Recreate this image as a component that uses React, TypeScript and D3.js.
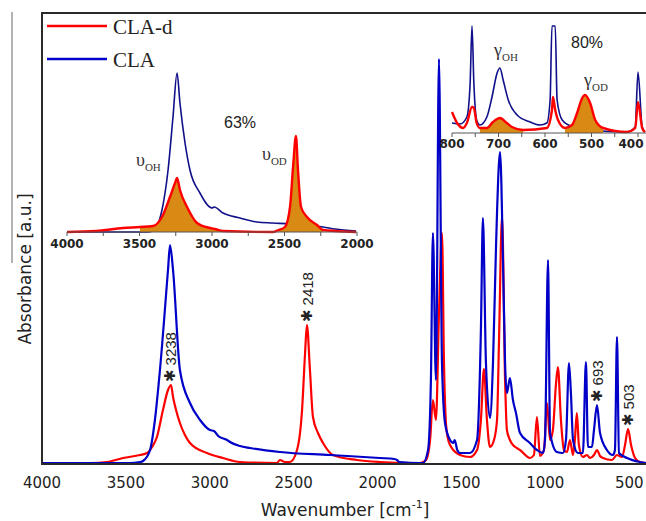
import React from 'react';
import * as d3 from 'd3';

type P = [number, number];

// ---------- Main spectrum data: [wavenumber (cm-1), absorbance (a.u.)] ----------
const claMain: P[] = [
  [4000, 1], [3800, 1], [3600, 1], [3480, 1], [3416, 2], [3398, 3], [3356, 14], [3327, 44], [3297, 94],
  [3249, 194], [3237, 219], [3219, 194], [3178, 94], [3118, 61], [3058, 44], [2999, 34], [2975, 33],
  [2950, 28], [2897, 24], [2880, 22], [2820, 18], [2760, 16], [2582, 12], [2284, 9], [1986, 6], [1900, 5],
  [1884, 4], [1870, 2], [1747, 1], [1729, 1], [1699, 14], [1682, 84], [1670, 231], [1652, 84], [1634, 405],
  [1616, 101], [1598, 41], [1568, 24], [1550, 21], [1540, 24], [1525, 14], [1509, 11], [1449, 11], [1407, 24],
  [1384, 134], [1372, 246], [1354, 101], [1330, 46], [1312, 101], [1294, 217], [1288, 251], [1270, 312],
  [1252, 201], [1240, 101], [1229, 71], [1211, 86], [1193, 64], [1175, 51], [1151, 31], [1092, 21],
  [1050, 14], [1014, 11], [1002, 24], [984, 204], [972, 31], [931, 12], [895, 11], [877, 24], [859, 101],
  [847, 69], [835, 24], [806, 11], [776, 11], [758, 102], [746, 17], [722, 17], [710, 34], [692, 59],
  [674, 31], [633, 14], [597, 9], [585, 14], [573, 127], [561, 11], [513, 6], [436, 2], [400, 1],
];

const cladMain: P[] = [
  [4000, 1], [3714, 1], [3613, 2], [3517, 6], [3416, 9], [3374, 11], [3344, 17], [3315, 27], [3279, 54],
  [3249, 74], [3231, 79], [3219, 67], [3201, 54], [3178, 41], [3148, 29], [3118, 21], [3017, 11], [2921, 6],
  [2820, 2], [2600, 1], [2582, 4], [2552, 2], [2522, 2], [2480, 14], [2450, 54], [2432, 111], [2421, 139],
  [2403, 94], [2385, 47], [2355, 31], [2325, 21], [2266, 9], [2123, 4], [1986, 2], [1789, 1], [1747, 1],
  [1711, 4], [1687, 24], [1670, 64], [1652, 44], [1634, 150], [1616, 231], [1604, 100], [1592, 40],
  [1580, 25], [1568, 19], [1509, 9], [1449, 7], [1407, 14], [1384, 44], [1366, 95], [1348, 44], [1330, 17],
  [1306, 24], [1288, 44], [1276, 124], [1258, 248], [1240, 84], [1229, 34], [1211, 24], [1193, 19],
  [1170, 16], [1151, 14], [1092, 6], [1068, 9], [1050, 47], [1032, 8], [1008, 14], [990, 61], [972, 24],
  [955, 34], [937, 79], [925, 97], [907, 44], [889, 14], [871, 12], [853, 24], [835, 9], [824, 24],
  [812, 51], [800, 19], [776, 7], [752, 9], [734, 6], [710, 9], [692, 14], [674, 8], [656, 6], [603, 4],
  [573, 9], [543, 7], [525, 19], [507, 35], [489, 19], [465, 6], [436, 2], [400, 1],
];

// ---------- Inset: O-H / O-D stretching region ----------
const claStretch: P[] = [
  [4000, 0], [3700, 0], [3450, 0], [3407, 1], [3345, 22], [3303, 62], [3269, 115], [3241, 159], [3221, 129],
  [3186, 89], [3152, 62], [3083, 39], [3000, 24], [2985, 25], [2924, 19], [2807, 14], [2690, 10], [2580, 9],
  [2462, 8], [2234, 5], [2150, 3], [2007, 1],
];
const cladStretch: P[] = [
  [4000, 0], [3800, 1], [3614, 4], [3497, 5], [3407, 6], [3345, 15], [3290, 35], [3255, 49], [3241, 54],
  [3221, 42], [3172, 25], [3103, 9], [3014, 4], [2980, 3], [2924, 1], [2579, 0], [2540, 2], [2497, 5],
  [2462, 25], [2441, 65], [2421, 96], [2407, 62], [2386, 25], [2345, 15], [2276, 7], [2234, 2], [2150, 1],
  [2007, 0],
];
const stretchFillRanges: P[] = [[3600, 2900], [2560, 2230]];

// ---------- Inset: out-of-plane bending region ----------
const claBend: P[] = [
  [800, 10], [783, 9], [768, 16], [761, 50], [757, 107], [753, 50], [747, 13], [740, 8], [725, 16], [714, 36],
  [703, 60], [697, 65], [690, 53], [679, 33], [660, 18], [632, 11], [611, 8], [596, 10], [589, 33], [585, 107],
  [578, 107], [574, 33], [563, 13], [540, 6], [503, 3], [424, 1], [406, 6], [400, 61], [391, 6], [385, 1],
];
const cladBend: P[] = [
  [800, 21], [789, 10], [776, 5], [768, 10], [757, 26], [753, 25], [747, 10], [740, 5], [725, 5], [712, 11],
  [697, 15], [682, 10], [671, 6], [647, 3], [596, 5], [585, 23], [583, 36], [578, 23], [572, 13], [557, 5],
  [542, 8], [531, 20], [520, 35], [514, 38], [503, 30], [492, 13], [475, 5], [424, 1], [406, 5], [400, 31],
  [391, 5], [385, 1],
];
const bendFillRanges: P[] = [[740, 645], [560, 470]];

const mainTicks = [4000, 3500, 3000, 2500, 2000, 1500, 1000, 500];
const stretchTicks = [4000, 3500, 3000, 2500, 2000];
const stretchMinor = [3750, 3250, 2750, 2250];
const bendTicks = [800, 700, 600, 500, 400];
const bendMinor = [750, 650, 550, 450];

const annotations = [
  { label: '3238', w: 3238, a: 79 },
  { label: '2418', w: 2418, a: 139 },
  { label: '693', w: 692, a: 59 },
  { label: '503', w: 507, a: 35 },
];

const RED = '#ff0000';
const BLUE = '#0000c8';
const NAVY = '#10108a';
const FILL = '#d98a14';
const TXT = '#222';

export default function App() {
  const x = d3.scaleLinear().domain([4000, 400]).range([42, 646]);
  const y = d3.scaleLinear().domain([0, 451]).range([464, 13]);

  const xs = d3.scaleLinear().domain([4000, 2000]).range([67, 357]);
  const ys = d3.scaleLinear().domain([0, 159]).range([232, 73]);

  const xb = d3.scaleLinear().domain([800, 400]).range([452, 638]);
  const yb = d3.scaleLinear().domain([0, 108]).range([133, 25]);

  const mk = (sx: any, sy: any) =>
    d3.line<P>().x((d) => sx(d[0])).y((d) => sy(d[1])).curve(d3.curveMonotoneX);
  const mkArea = (sx: any, sy: any) =>
    d3.area<P>().x((d) => sx(d[0])).y0(sy(0)).y1((d) => sy(d[1])).curve(d3.curveMonotoneX);

  const mainLine = mk(x, y);
  const sLine = mk(xs, ys);
  const bLine = mk(xb, yb);
  const sArea = mkArea(xs, ys);
  const bArea = mkArea(xb, yb);

  const sans = "'DejaVu Sans', sans-serif";
  const lib = "'Liberation Sans', Arial, sans-serif";
  const serif = "'Liberation Serif', 'Times New Roman', serif";

  return (
    <svg width={646} height={521} style={{ position: 'absolute', left: 0, top: 0, background: '#fff' }}>
      <rect x={0} y={0} width={646} height={521} fill="#fff" />
      <line x1={12} y1={12} x2={12} y2={263} stroke="#666" strokeWidth={1} />

      <path d={mainLine(cladMain) || ''} fill="none" stroke={RED} strokeWidth={2.2} strokeLinejoin="round" />
      <path d={mainLine(claMain) || ''} fill="none" stroke={BLUE} strokeWidth={2.2} strokeLinejoin="round" />

      <path d={`M${x(400)},${y(451)}H${x(4000)}V${y(0)}H${x(400)}`} fill="none" stroke="#2a2a2a" strokeWidth={2} />

      {mainTicks.map((t) => (
        <text key={t} x={x(t)} y={488} textAnchor="middle" fontFamily={sans} fontSize={15} fill={TXT}>
          {t}
        </text>
      ))}
      <text x={345} y={516} textAnchor="middle" fontFamily={sans} fontSize={17} fill={TXT}>
        Wavenumber [cm
        <tspan fontSize={11} dy={-8}>-1</tspan>
        <tspan dy={8}>]</tspan>
      </text>
      <text
        transform="translate(25,269) rotate(-90)"
        textAnchor="middle"
        dominantBaseline="central"
        fontFamily={sans}
        fontSize={17}
        fill={TXT}
      >
        Absorbance [a.u.]
      </text>

      <line x1={47} x2={107} y1={26} y2={26} stroke={RED} strokeWidth={2.5} />
      <line x1={47} x2={107} y1={59} y2={59} stroke={BLUE} strokeWidth={2.5} />
      <text x={113} y={27} dominantBaseline="central" fontFamily={serif} fontSize={21} fill={TXT}>CLA-d</text>
      <text x={113} y={60} dominantBaseline="central" fontFamily={serif} fontSize={21} fill={TXT}>CLA</text>

      {annotations.map((a) => (
        <text
          key={a.label}
          transform={`translate(${x(a.w)},${y(a.a) - 3}) rotate(-90)`}
          dominantBaseline="central"
          fontFamily={lib}
          fontSize={15}
          fill={TXT}
        >
          <tspan fontFamily={sans} fontSize={15}>✱</tspan>
          <tspan dx={4}>{a.label}</tspan>
        </text>
      ))}

      <g>
        <path d={sLine(claStretch) || ''} fill="none" stroke={NAVY} strokeWidth={1.6} />
        {stretchFillRanges.map((r, i) => (
          <path
            key={i}
            d={sArea(cladStretch.filter((d) => d[0] <= r[0] && d[0] >= r[1])) || ''}
            fill={FILL}
          />
        ))}
        <path d={sLine(cladStretch) || ''} fill="none" stroke={RED} strokeWidth={2.4} />
        <line x1={xs(4000)} x2={xs(2000)} y1={ys(0)} y2={ys(0)} stroke="#555" strokeWidth={1} />
        {stretchTicks.concat(stretchMinor).map((t) => (
          <line key={t} x1={xs(t)} x2={xs(t)} y1={ys(0)} y2={ys(0) + 4} stroke="#555" strokeWidth={1} />
        ))}
        {stretchTicks.map((t) => (
          <text key={t} x={xs(t)} y={248} textAnchor="middle" fontFamily={sans} fontSize={12} fontWeight={600} fill={TXT}>
            {t}
          </text>
        ))}
        <text x={240} y={128} textAnchor="middle" fontFamily={lib} fontSize={16} fill={TXT}>63%</text>
        <text x={136} y={166} fontFamily={serif} fontSize={18} fill="#333">
          υ<tspan fontSize={11} dy={5}>OH</tspan>
        </text>
        <text x={262} y={160} fontFamily={serif} fontSize={18} fill="#333">
          υ<tspan fontSize={11} dy={5}>OD</tspan>
        </text>
      </g>

      <g>
        <path d={bLine(claBend) || ''} fill="none" stroke={NAVY} strokeWidth={1.6} />
        {bendFillRanges.map((r, i) => (
          <path
            key={i}
            d={bArea(cladBend.filter((d) => d[0] <= r[0] && d[0] >= r[1])) || ''}
            fill={FILL}
          />
        ))}
        <path d={bLine(cladBend) || ''} fill="none" stroke={RED} strokeWidth={2.4} />
        <line x1={xb(800)} x2={646} y1={yb(0)} y2={yb(0)} stroke="#555" strokeWidth={1} />
        {bendTicks.concat(bendMinor).map((t) => (
          <line key={t} x1={xb(t)} x2={xb(t)} y1={yb(0)} y2={yb(0) + 4} stroke="#555" strokeWidth={1} />
        ))}
        {bendTicks.map((t) => (
          <text key={t} x={Math.min(xb(t), 631)} y={148} textAnchor="middle" fontFamily={sans} fontSize={12} fontWeight={600} fill={TXT}>
            {t}
          </text>
        ))}
        <text x={587} y={48} textAnchor="middle" fontFamily={lib} fontSize={16} fill={TXT}>80%</text>
        <text x={494} y={56} fontFamily={serif} fontSize={18} fill="#333">
          γ<tspan fontSize={11} dy={5}>OH</tspan>
        </text>
        <text x={584} y={86} fontFamily={serif} fontSize={18} fill="#333">
          γ<tspan fontSize={11} dy={5}>OD</tspan>
        </text>
      </g>
    </svg>
  );
}
